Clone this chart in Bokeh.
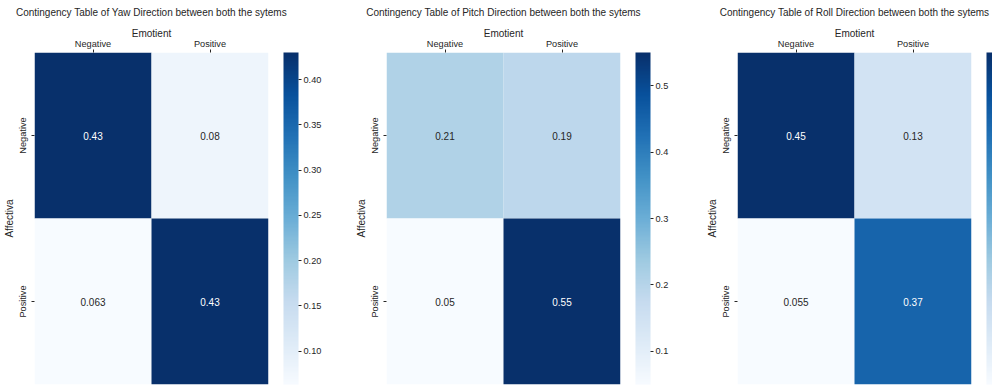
import numpy as np
from bokeh.plotting import figure
from bokeh.models import ColumnDataSource, LinearColorMapper, ColorBar, FixedTicker, PrintfTickFormatter
from bokeh.layouts import row
from bokeh.palettes import Blues9
from bokeh.core.properties import value
from bokeh.embed import file_html
from bokeh.resources import INLINE

# ---------------- data ----------------
emotient_cats = ["Negative", "Positive"]      # columns (x)
affectiva_cats = ["Negative", "Positive"]     # rows (y)

yaw_values = [0.43, 0.08, 0.063, 0.43]        # row-major: (Neg,Neg), (Neg,Pos), (Pos,Neg), (Pos,Pos)
pitch_values = [0.21, 0.19, 0.05, 0.55]
roll_values = [0.45, 0.13, 0.055, 0.37]

yaw_ticks = [0.10, 0.15, 0.20, 0.25, 0.30, 0.35, 0.40]
pitch_ticks = [0.1, 0.2, 0.3, 0.4, 0.5]
roll_ticks = []   # the roll colour bar is cut off at the right edge: no tick labels visible

titles = [
    "Contingency Table of Yaw Direction between both the sytems",
    "Contingency Table of Pitch Direction between both the sytems",
    "Contingency Table of Roll Direction between both the sytems",
]
x_label = "Emotient"
y_label = "Affectiva"

# ---------------- style ----------------
FONT = "Liberation Sans"
DARK = "#262626"


def blues_palette(n=256):
    base = list(reversed(Blues9))  # light -> dark, same anchors as matplotlib "Blues"
    rgb = np.array([[int(c[i:i + 2], 16) for i in (1, 3, 5)] for c in base], dtype=float)
    pos = np.linspace(0, 1, len(base))
    t = np.linspace(0, 1, n)
    out = []
    for k in range(n):
        r = np.interp(t[k], pos, rgb[:, 0])
        g = np.interp(t[k], pos, rgb[:, 1])
        b = np.interp(t[k], pos, rgb[:, 2])
        out.append("#%02x%02x%02x" % (int(round(r)), int(round(g)), int(round(b))))
    return out


PALETTE = blues_palette()


def lum(hexc):
    c = np.array([int(hexc[i:i + 2], 16) for i in (1, 3, 5)]) / 255.0
    c = np.where(c <= 0.03928, c / 12.92, ((c + 0.055) / 1.055) ** 2.4)
    return 0.2126 * c[0] + 0.7152 * c[1] + 0.0722 * c[2]


def panel(vals, ticks, fmt, title, width, right_border):
    lo, hi = min(vals), max(vals)
    xs, ys = [], []
    for r in affectiva_cats:
        for c in emotient_cats:
            xs.append(c)
            ys.append(r)
    colors = []
    for v in vals:
        idx = int(round((v - lo) / (hi - lo) * 255))
        colors.append(PALETTE[idx])
    txt_colors = ["#ffffff" if lum(c) <= 0.408 else DARK for c in colors]
    labels = [f"{v:.2g}" for v in vals]
    src = ColumnDataSource(dict(x=xs, y=ys, v=vals, lab=labels, tc=txt_colors))

    mapper = LinearColorMapper(palette=PALETTE, low=lo, high=hi)

    p = figure(width=width, height=385, x_range=emotient_cats,
               y_range=list(reversed(affectiva_cats)),
               x_axis_location="above", output_backend="svg", toolbar_location=None,
               min_border_left=34, min_border_top=52, min_border_bottom=1,
               min_border_right=right_border, title=title)
    p.rect(x="x", y="y", width=1, height=1, source=src,
           fill_color={"field": "v", "transform": mapper}, line_color=None)
    p.text(x="x", y="y", text="lab", source=src, text_color="tc",
           text_align="center", text_baseline="middle",
           text_font=value(FONT), text_font_size="10px")

    p.title.align = "center"
    p.title.text_font = FONT
    p.title.text_font_size = "10px"
    p.title.text_font_style = "normal"
    p.title.text_color = DARK
    p.title.vertical_align = "top"
    p.title.standoff = 9

    p.grid.visible = False
    p.outline_line_color = None
    for ax in (p.xaxis, p.yaxis):
        ax.axis_line_color = None
        ax.major_tick_line_color = DARK
        ax.major_tick_out = 3
        ax.major_tick_in = 0
        ax.minor_tick_line_color = None
        ax.major_label_text_font = FONT
        ax.major_label_text_font_size = "9.2px"
        ax.major_label_text_color = DARK
        ax.axis_label_text_font = FONT
        ax.axis_label_text_font_size = "10px"
        ax.axis_label_text_font_style = "normal"
        ax.axis_label_text_color = DARK
    p.xaxis.major_label_standoff = 1
    p.xaxis.axis_label_standoff = -3
    p.yaxis.major_label_standoff = 4
    p.yaxis.axis_label_standoff = 0
    p.xaxis.axis_label = x_label
    p.yaxis.axis_label = y_label
    p.yaxis.major_label_orientation = "vertical"

    cb = ColorBar(color_mapper=mapper, location=(249, 0), width=15, height=332,
                  padding=0, ticker=FixedTicker(ticks=ticks),
                  formatter=PrintfTickFormatter(format=fmt),
                  major_tick_in=0, major_tick_out=3, major_tick_line_color=DARK,
                  major_label_text_font=FONT, major_label_text_font_size="9.2px",
                  major_label_text_color=DARK, label_standoff=2,
                  bar_line_color=None, border_line_color=None,
                  background_fill_color=None, orientation="vertical")
    p.add_layout(cb)
    return p


p1 = panel(yaw_values, yaw_ticks, "%.2f", titles[0], 352, 84)
p2 = panel(pitch_values, pitch_ticks, "%.1f", titles[1], 351, 83)
p3 = panel(roll_values, roll_ticks, "%.2f", titles[2], 289, 21)

layout = row(p1, p2, p3)
open("out.html", "w").write(file_html(layout, INLINE))
